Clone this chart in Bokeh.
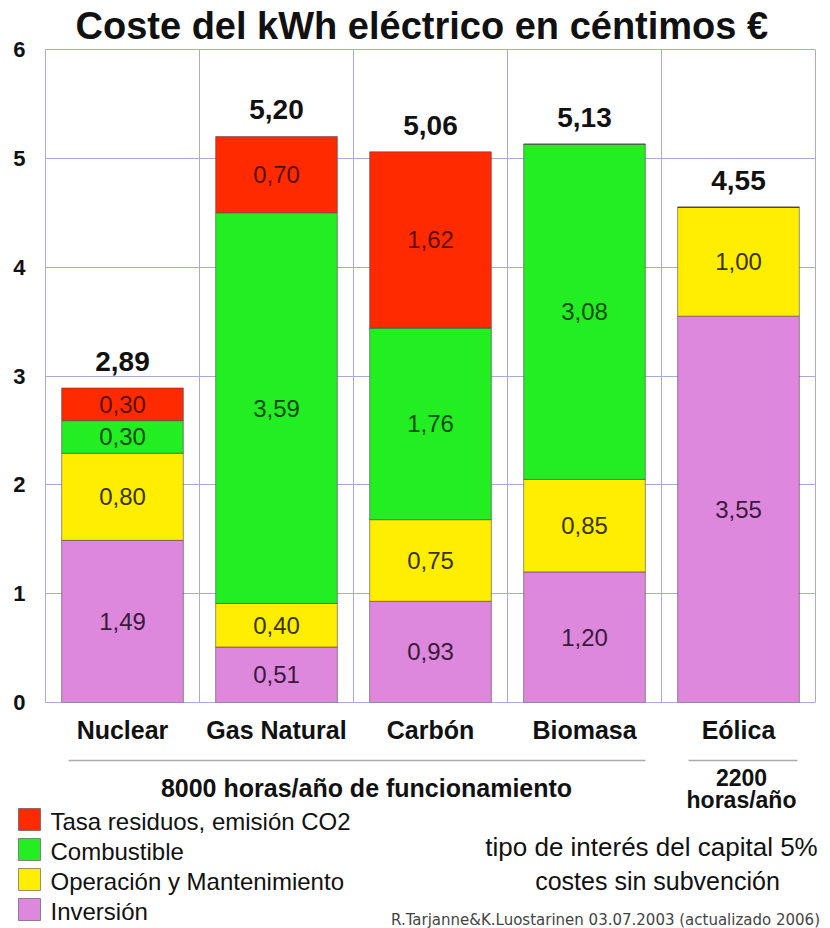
from bokeh.plotting import figure
from bokeh.layouts import column
from bokeh.models import FixedTicker, ColumnDataSource, Range1d
from bokeh.embed import file_html
from bokeh.resources import INLINE
from bokeh.core.properties import value

# ---------------- data ----------------
categories = ["Nuclear", "Gas Natural", "Carbón", "Biomasa", "Eólica"]
inversion = [1.49, 0.51, 0.93, 1.20, 3.55]
operacion = [0.80, 0.40, 0.75, 0.85, 1.00]
combustible = [0.30, 3.59, 1.76, 3.08, 0.00]
tasa = [0.30, 0.70, 1.62, 0.00, 0.00]
totals = [2.89, 5.20, 5.06, 5.13, 4.55]
series_names = ["Inversión", "Operación y Mantenimiento", "Combustible",
                "Tasa residuos, emisión CO2"]
y_ticks = [0, 1, 2, 3, 4, 5, 6]

# ---------------- styles ----------------
FONT = "Liberation Sans"
fill_colors = ["#dd88dd", "#ffee00", "#22ee22", "#ff2a00"]
text_colors = ["#3a1a3a", "#3a3300", "#0c4a0c", "#5a1000"]
GRID = "#aaaad8"
BAR_LINE = "#4a3a4a"

TOP_H = 750
p = figure(width=830, height=TOP_H, output_backend="svg", toolbar_location=None,
           x_range=Range1d(0, 5), y_range=Range1d(0, 6),
           min_border_left=45, min_border_right=15, min_border_top=45,
           min_border_bottom=TOP_H - 702)
p.frame_align = False
p.title.text = "Coste del kWh eléctrico en céntimos €"
p.title.align = "left"
p.title.offset = 30
p.title.standoff = 5
p.title.text_font = FONT
p.title.text_font_size = "38px"
p.title.text_font_style = "bold"
p.title.text_color = "#111111"
p.background_fill_color = "white"
p.border_fill_color = "white"
p.outline_line_color = GRID
p.outline_line_width = 1

xs = [i + 0.5 for i in range(len(categories))]
src = ColumnDataSource(dict(x=xs, inv=inversion, om=operacion,
                            fuel=combustible, tax=tasa))
stackers = ["inv", "om", "fuel", "tax"]
p.vbar_stack(stackers, x="x", width=0.79, color=fill_colors,
             line_color=BAR_LINE, line_alpha=0.55, line_width=1, source=src)

# segment labels
series = [inversion, operacion, combustible, tasa]
lx, ly, lt, lc = [], [], [], []
for i, x in enumerate(xs):
    base = 0.0
    for s, vals in enumerate(series):
        v = vals[i]
        if v > 0:
            lx.append(x)
            ly.append(base + v / 2)
            lt.append(f"{v:.2f}".replace(".", ","))
            lc.append(text_colors[s])
        base += v
p.text(x="x", y="y", text="t", source=ColumnDataSource(dict(x=lx, y=ly, t=lt, c=lc)),
       text_color="c", text_align="center", text_baseline="middle",
       text_font=value(FONT), text_font_size="24px")

# totals
p.text(x=xs, y=[t + 0.245 for t in totals],
       text=[f"{t:.2f}".replace(".", ",") for t in totals],
       text_align="center", text_baseline="middle", text_font=value(FONT),
       text_font_size="28px", text_font_style="bold", text_color="#111111")

# axes
p.yaxis.ticker = FixedTicker(ticks=y_ticks)
p.yaxis.axis_line_color = None
p.yaxis.major_tick_line_color = None
p.yaxis.minor_tick_line_color = None
p.yaxis.major_tick_out = 0
p.yaxis.major_tick_in = 0
p.yaxis.major_label_standoff = 20
p.yaxis.major_label_text_font = FONT
p.yaxis.major_label_text_font_size = "22px"
p.yaxis.major_label_text_font_style = "bold"
p.yaxis.major_label_text_color = "#111111"

p.xaxis.ticker = FixedTicker(ticks=xs)
p.xaxis.major_label_overrides = {x: c for x, c in zip(xs, categories)}
p.xaxis.axis_line_color = None
p.xaxis.major_tick_line_color = None
p.xaxis.minor_tick_line_color = None
p.xaxis.major_tick_out = 0
p.xaxis.major_tick_in = 0
p.xaxis.major_label_standoff = 13
p.xaxis.major_label_text_font = FONT
p.xaxis.major_label_text_font_size = "25px"
p.xaxis.major_label_text_font_style = "bold"
p.xaxis.major_label_text_color = "#111111"

p.ygrid.ticker = FixedTicker(ticks=[1, 2, 3, 4, 5])
p.xgrid.ticker = FixedTicker(ticks=[1, 2, 3, 4])
p.grid.grid_line_color = GRID
p.grid.grid_line_width = 1

# ---------------- lower panel: notes and legend (pixel coordinates) --------
q = figure(width=830, height=928 - TOP_H, output_backend="svg", toolbar_location=None,
           x_range=Range1d(0, 830), y_range=Range1d(928, TOP_H),
           x_axis_type=None, y_axis_type=None,
           min_border_left=0, min_border_right=0, min_border_top=0, min_border_bottom=0)
q.frame_align = False
q.outline_line_color = None
q.grid.visible = False
q.background_fill_color = "white"
q.border_fill_color = "white"

q.segment(x0=[68, 688], y0=[760, 760], x1=[645, 797], y1=[760, 760],
          line_color="#ababab", line_width=1.5)


def note(text, x, y, size, bold=False, color="#111111", font=FONT, align="center"):
    q.text(x=[x], y=[y], text=[text], text_align=align, text_baseline="middle",
           text_font=value(font), text_font_size=size, text_color=color,
           text_font_style="bold" if bold else "normal")


note("8000 horas/año de funcionamiento", 366, 787, "25px", bold=True)
note("2200", 741, 777, "23px", bold=True)
note("horas/año", 741, 799, "23px", bold=True)
note("tipo de interés del capital 5%", 651, 846, "26px")
note("costes sin subvención", 657, 880, "25px")
note("R.Tarjanne&K.Luostarinen 03.07.2003 (actualizado 2006)", 605, 919, "15px",
     color="#444444", font="DejaVu Sans")

# legend (top to bottom: tasa, combustible, operación, inversión)
order = [3, 2, 1, 0]
leg_sq_y = [819, 849, 879, 909]
leg = ColumnDataSource(dict(
    sy=leg_sq_y,
    ty=[y + 2 for y in leg_sq_y],
    c=[fill_colors[k] for k in order],
    t=[series_names[k] for k in order]))
q.rect(x=29, y="sy", width=22, height=22, fill_color="c", line_color=BAR_LINE,
       line_alpha=0.55, source=leg)
q.text(x=50, y="ty", text="t", text_align="left", text_baseline="middle",
       text_font=value(FONT), text_font_size="24px", text_color="#111111", source=leg)

layout = column(p, q, spacing=0)
open("out.html", "w").write(file_html(layout, INLINE))
